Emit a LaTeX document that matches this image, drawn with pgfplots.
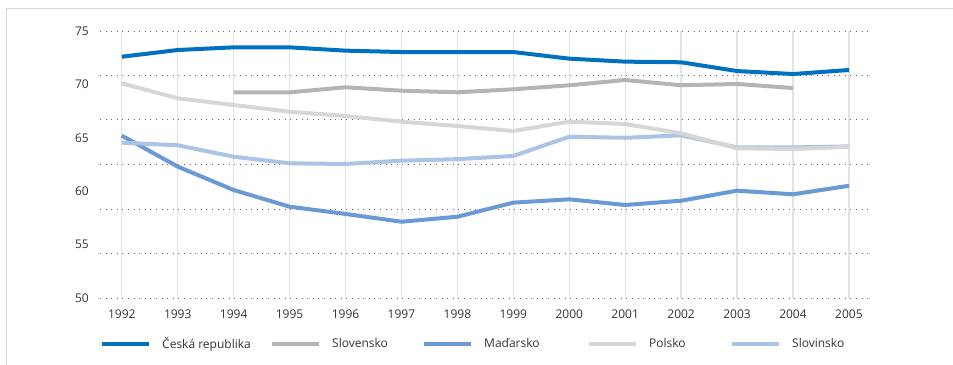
\documentclass[border=0pt]{standalone}
\usepackage{pgfplots}
\pgfplotsset{compat=1.18}
\usepackage{fontspec}
\setmainfont{Open Sans}

\definecolor{czC}{RGB}{0,112,192}
\definecolor{skC}{RGB}{180,180,180}
\definecolor{huC}{RGB}{106,154,212}
\definecolor{plC}{RGB}{214,214,214}
\definecolor{siC}{RGB}{171,196,230}
\definecolor{txt}{RGB}{51,51,51}
\definecolor{frameC}{RGB}{215,215,215}

\begin{document}
\begin{tikzpicture}
\useasboundingbox (0,0) rectangle (953bp,365bp);
% outer frame (top and left edges)
\draw[frameC, line width=1.5bp] (6.5bp,0) -- (6.5bp,356.5bp) -- (953bp,356.5bp);

\begin{axis}[
  at={(100bp,67bp)}, anchor=south west,
  width=768bp, height=267bp, scale only axis,
  xmin=1991.61, xmax=2005.34,
  ymin=50, ymax=75,
  xtick={1992,...,2005},
  ytick={50,55,...,75},
  xticklabel style={/pgf/number format/1000 sep={}},
  /pgf/number format/assume math mode=true,
  font=\fontsize{12bp}{14bp}\selectfont,
  tick label style={text=txt, inner sep=0pt},
  xticklabel style={anchor=center, yshift=-16bp},
  yticklabel style={anchor=east, xshift=-11bp},
  major tick length=0pt,
  axis line style={draw=none},
  xmajorgrids=true,
  major grid style={draw=black!11, line width=1.3bp},
  extra y ticks={50,54.1667,58.3333,62.5,66.6667,70.8333,75},
  extra y tick labels={},
  extra y tick style={ymajorgrids=true, xmajorgrids=false,
     major grid style={draw=black!60, line width=1bp, dash pattern=on 1bp off 4.6bp}},
  legend columns=5,
  legend style={draw=none, fill=none, inner sep=0pt,
     at={(0,-0.1723)}, anchor=west,
     font=\fontsize{12bp}{14bp}\selectfont, text=txt,
     nodes={inner sep=0pt},
     /tikz/every odd column/.append style={column sep=11bp}},
  legend image code/.code={\draw[#1] (0bp,0bp) -- (47bp,0bp);},
  every axis plot/.append style={line width=4bp, line join=round},
]

% legend entries in display order
\addlegendimage{czC, line width=4bp}
\addlegendentry{\makebox[108bp][l]{Česká republika}}
\addlegendimage{skC, line width=4bp}
\addlegendentry{\makebox[90bp][l]{Slovensko}}
\addlegendimage{huC, line width=4bp}
\addlegendentry{\makebox[103bp][l]{Maďarsko}}
\addlegendimage{plC, line width=4bp}
\addlegendentry{\makebox[81bp][l]{Polsko}}
\addlegendimage{siC, line width=4bp}
\addlegendentry{Slovinsko}

% Česká republika
\addplot[czC, forget plot] coordinates {
 (1992,72.59) (1993,73.22) (1994,73.47) (1995,73.47) (1996,73.16)
 (1997,73.03) (1998,73.03) (1999,73.03) (2000,72.41) (2001,72.13)
 (2002,72.07) (2003,71.25) (2004,70.97) (2005,71.35)};

% Slovensko
\addplot[skC, forget plot] coordinates {
 (1994,69.26) (1995,69.26) (1996,69.73) (1997,69.41) (1998,69.26)
 (1999,69.54) (2000,69.92) (2001,70.41) (2002,69.92) (2003,70.04)
 (2004,69.66)};

% Maďarsko
\addplot[huC, forget plot] coordinates {
 (1992,65.20) (1993,62.30) (1994,60.11) (1995,58.55) (1996,57.87)
 (1997,57.14) (1998,57.61) (1999,58.93) (2000,59.24) (2001,58.71)
 (2002,59.11) (2003,60.05) (2004,59.71) (2005,60.51)};

% Slovinsko
\addplot[siC, forget plot] coordinates {
 (1992,64.54) (1993,64.30) (1994,63.23) (1995,62.61) (1996,62.55)
 (1997,62.86) (1998,63.00) (1999,63.30) (2000,65.10) (2001,65.00)
 (2002,65.23) (2003,64.10) (2004,64.10) (2005,64.20)};

% Polsko
\addplot[plC, forget plot] coordinates {
 (1992,70.10) (1993,68.70) (1994,68.07) (1995,67.44) (1996,67.04)
 (1997,66.51) (1998,66.10) (1999,65.64) (2000,66.51) (2001,66.29)
 (2002,65.42) (2003,64.02) (2004,63.95) (2005,64.15)};

\end{axis}
\end{tikzpicture}
\end{document}
